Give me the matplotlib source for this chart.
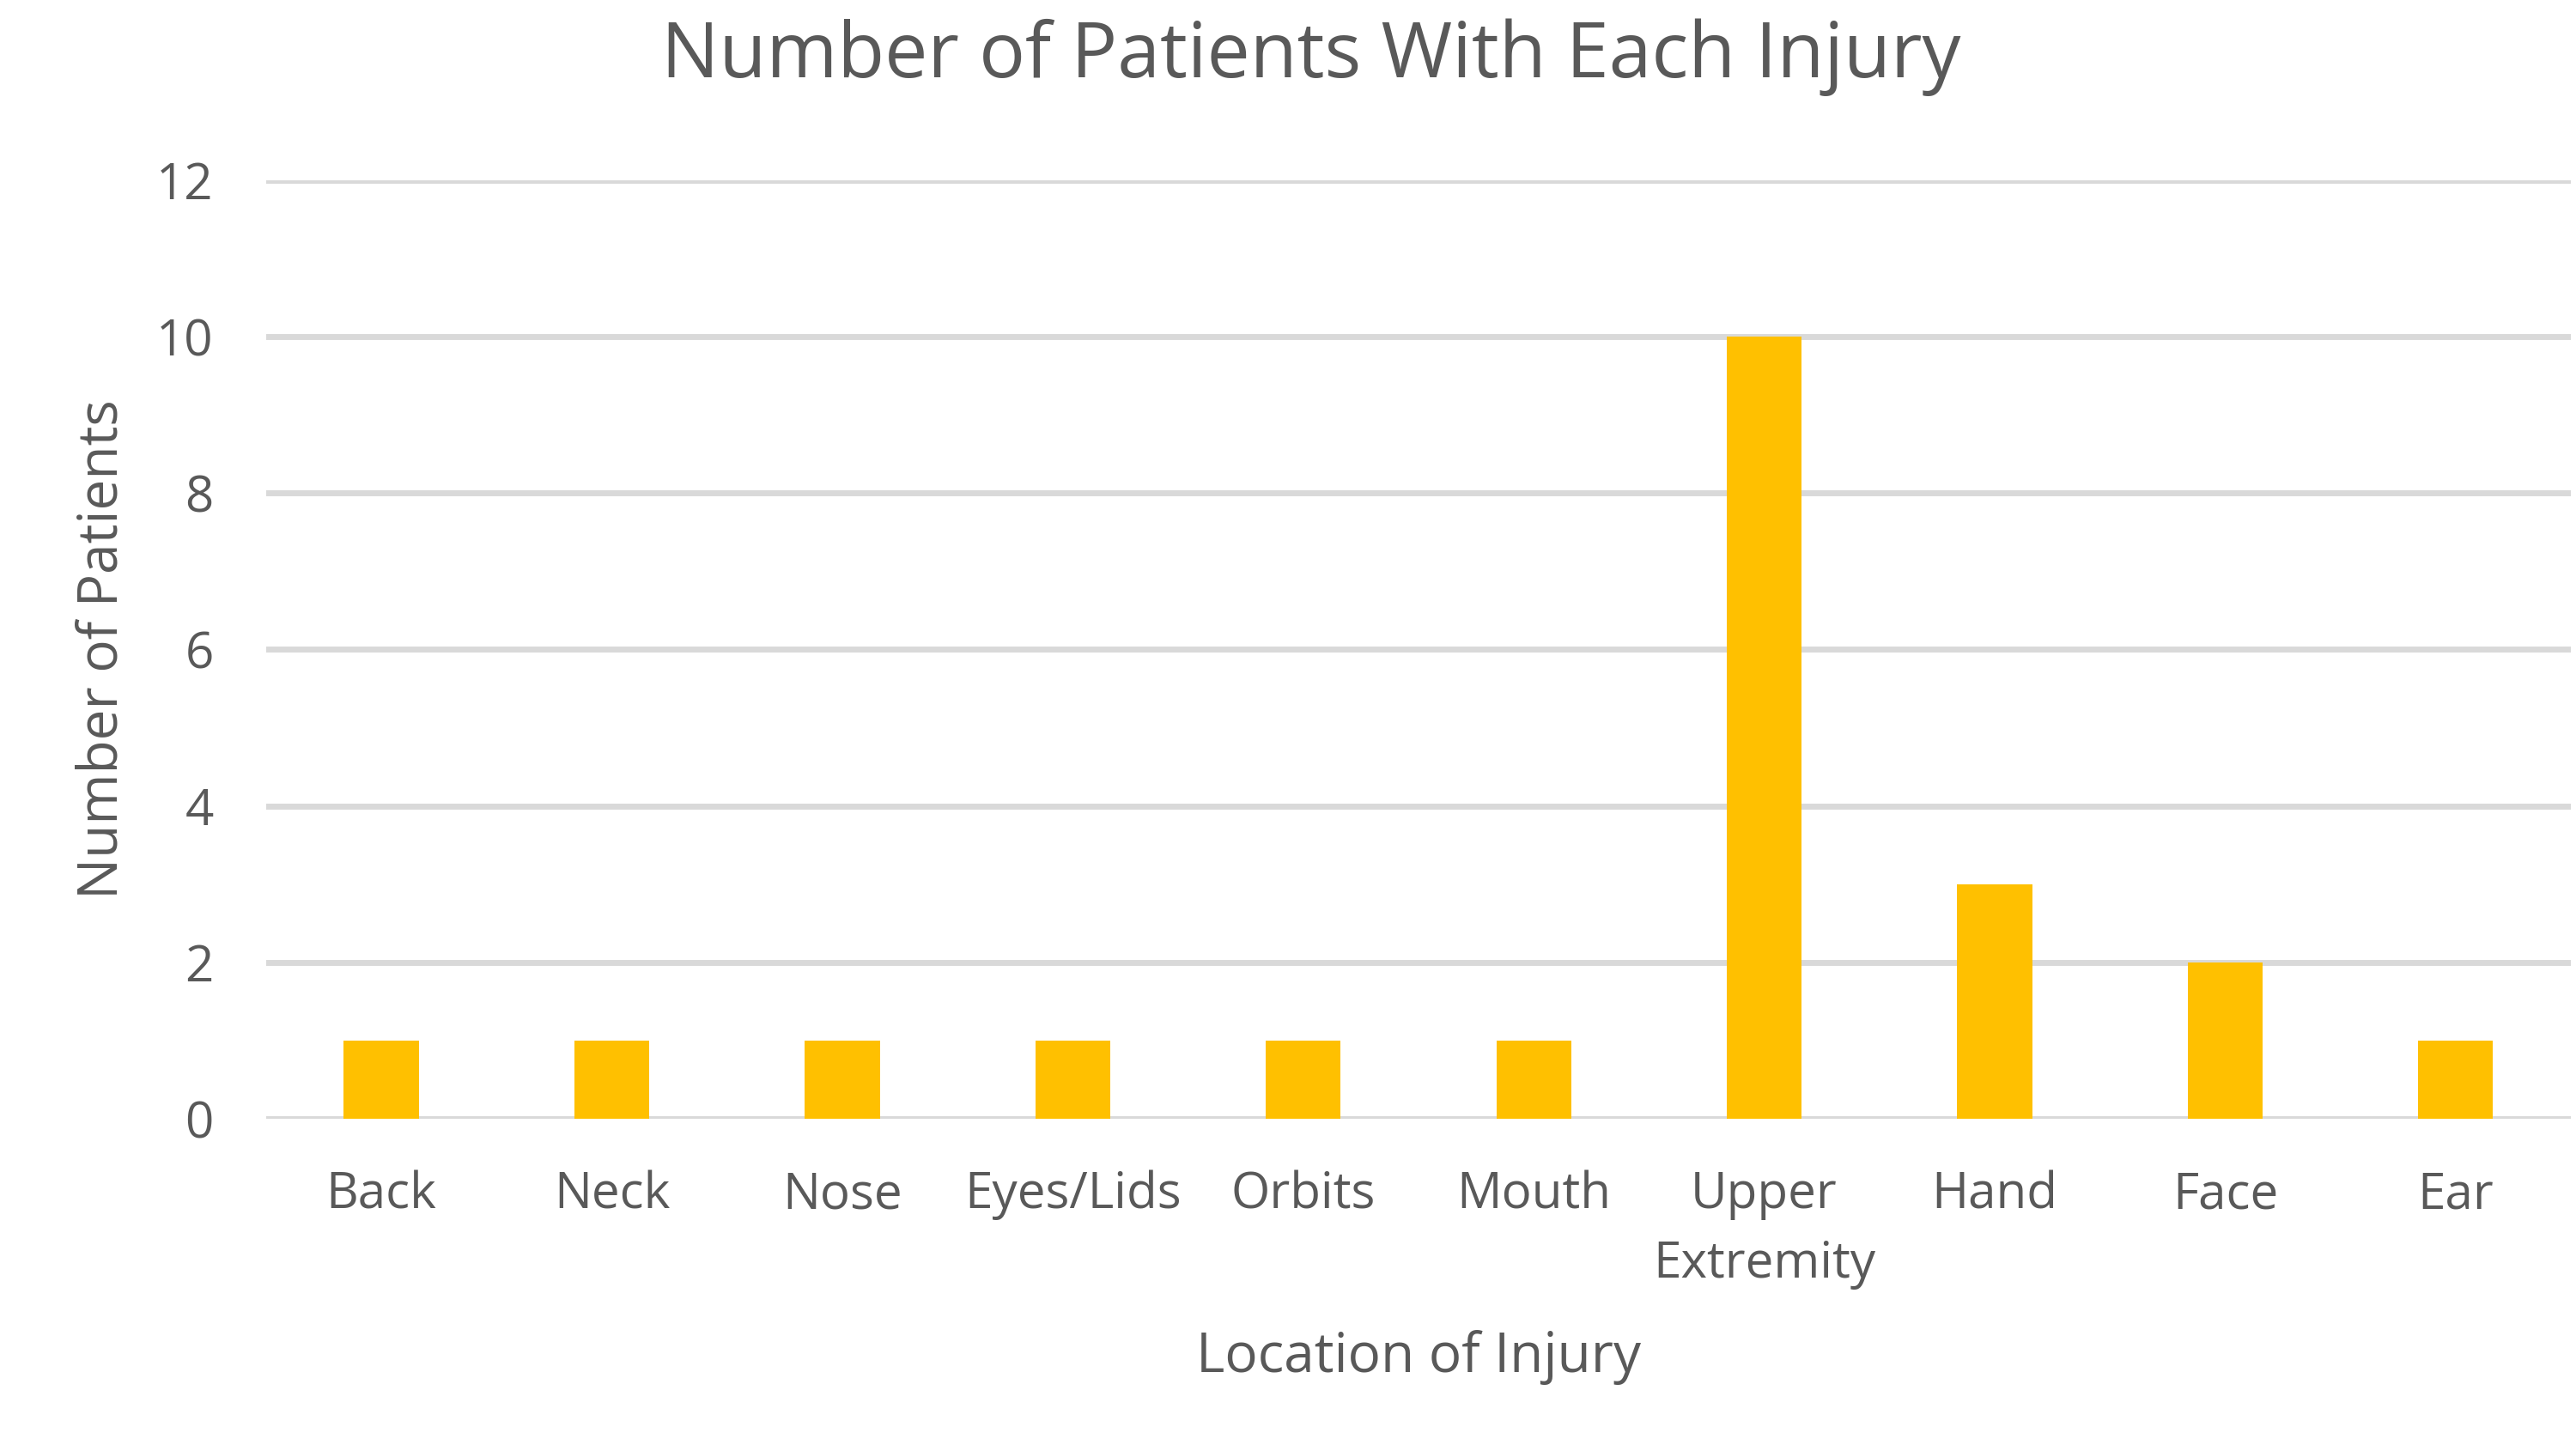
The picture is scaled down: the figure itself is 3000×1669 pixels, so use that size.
import numpy as np
import matplotlib.pyplot as plt

plt.rcParams['font.family'] = ['Open Sans', 'DejaVu Sans']

locations = ["Back", "Neck", "Nose", "Eyes/Lids", "Orbits", "Mouth",
             "Upper\nExtremity", "Hand", "Face", "Ear"]
patients = [1, 1, 1, 1, 1, 1, 10, 3, 2, 1]
yticks = [0, 2, 4, 6, 8, 10, 12]

txt = "#595959"
fig = plt.figure(figsize=(30, 16.69), dpi=100)
ax = fig.add_axes([0.1033, 0.2193, 0.8947, 0.6549])

x = np.arange(len(locations))
ax.bar(x, patients, width=0.325, color="#FFC000", zorder=3)

ax.set_xlim(-0.5, len(locations) - 0.5)
ax.set_ylim(0, 12)
ax.set_yticks(yticks)
ax.set_xticks(x)
ax.set_xticklabels(locations, linespacing=1.5)
ax.yaxis.grid(True, color="#d9d9d9", linewidth=5, zorder=0)
ax.set_axisbelow(True)
for s in ax.spines.values():
    s.set_visible(False)
ax.tick_params(axis="both", length=0, labelsize=42, colors=txt)
ax.tick_params(axis="y", pad=44)
ax.tick_params(axis="x", pad=43)

ax.set_xlabel("Location of Injury", fontsize=46, color=txt, labelpad=34)
ax.set_ylabel("Number of Patients", fontsize=46, color=txt, labelpad=22)
fig.text(0.509, 0.960, "Number of Patients With Each Injury",
         fontsize=64.5, color=txt, ha="center", va="center")

fig.savefig("out.png", dpi=100, facecolor="white")
